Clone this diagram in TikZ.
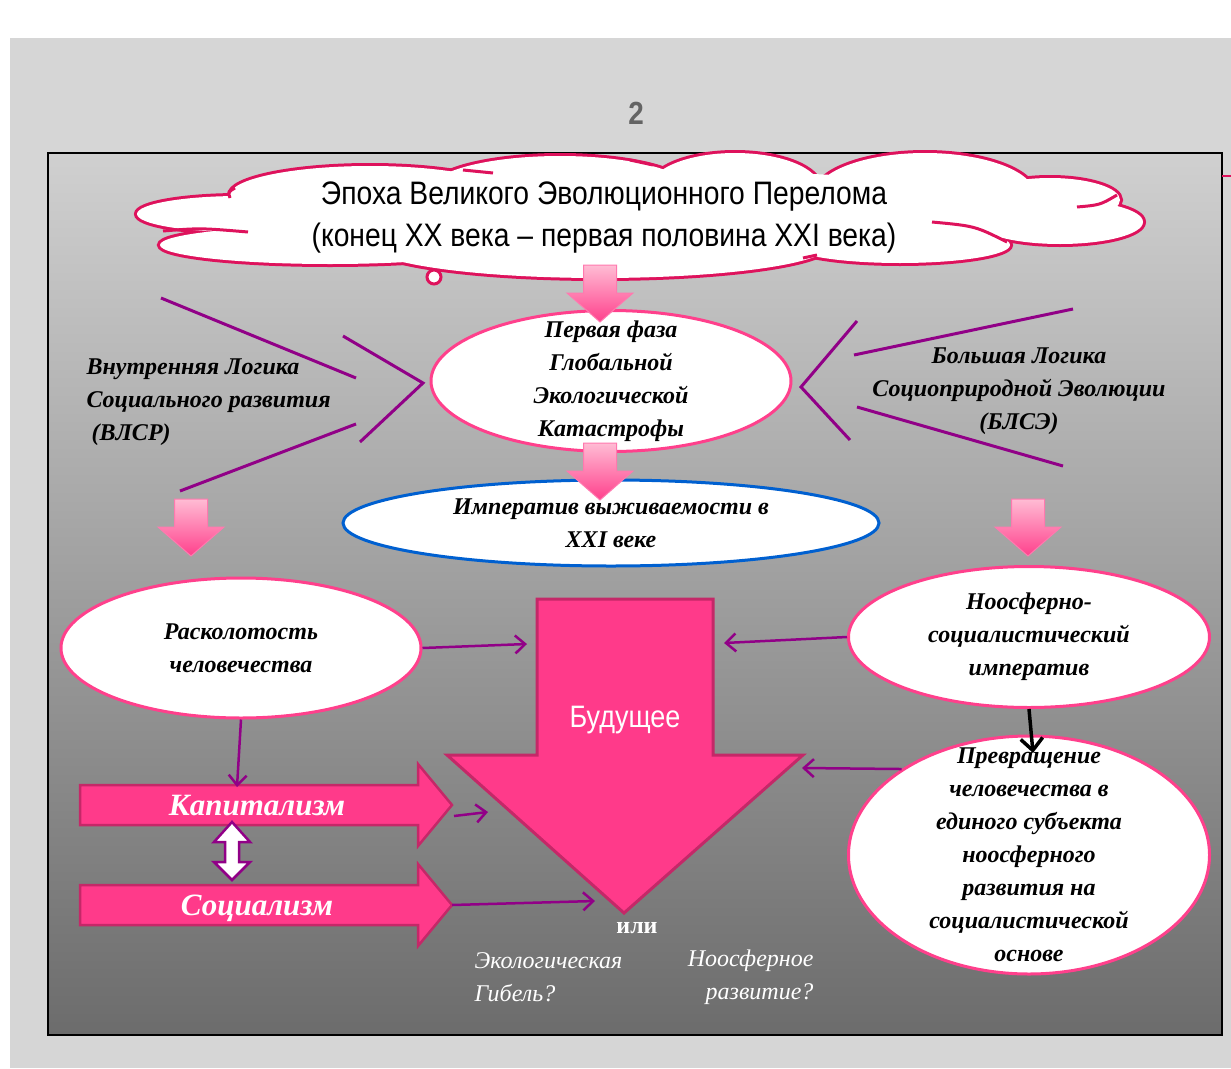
\documentclass[tikz,border=0pt]{standalone}
\usepackage{fontspec}
\setmainfont{Liberation Serif}
\newfontfamily\narrowsans[FakeStretch=0.87]{Liberation Sans}
\usetikzlibrary{shapes.geometric, arrows.meta}

\definecolor{crimson}{RGB}{222,18,92}
\definecolor{rosy}{RGB}{255,64,140}
\definecolor{hotpink}{RGB}{255,58,138}
\definecolor{pinkedge}{RGB}{196,40,104}
\definecolor{plum}{RGB}{145,0,135}
\definecolor{skyblue}{RGB}{0,96,208}
\definecolor{lightpink}{RGB}{255,188,212}
\definecolor{slidegray}{RGB}{214,214,214}
\definecolor{frametop}{RGB}{208,208,208}
\definecolor{framebot}{RGB}{108,108,108}

\begin{document}
\begin{tikzpicture}[x=1pt, y=-1pt,
    boldtext/.style={font=\fontsize{24}{33}\selectfont\bfseries\itshape, align=center},
    oval/.style={ellipse, draw=rosy, line width=3pt, fill=white, inner sep=0pt, boldtext},
    link/.style={draw=plum, line width=2.5pt, -{Straight Barb[length=10pt,width=18pt]}},
    fence/.style={draw=plum, line width=3pt},
    blockarrow/.style={fill=hotpink, draw=pinkedge, line width=2.5pt, line join=miter},
    drop/.style={draw=rosy!70, line width=1pt, top color=lightpink, bottom color=rosy},
    whitetext/.style={font=\fontsize{24}{33}\selectfont\itshape, text=white}]

    % Slide background
    \useasboundingbox (0,0) rectangle (1231,1068);
    \fill[white] (0,0) rectangle (1231,1068);
    \fill[slidegray] (10,38) rectangle (1231,1068);
    \node[text={rgb,255:red,100;green,100;blue,100}, font=\narrowsans\bfseries\fontsize{32}{32}\selectfont] (num) at (636,113) {2};

    % Frame
    \draw[line width=2pt, top color=frametop, bottom color=framebot] (48,153) rectangle (1222,1035);
    \draw[crimson, line width=2pt] (1222,176) -- (1231,176);

    % Cloud
    \foreach \ex/\ey/\rx/\ry in {240/214/103/18, 330/245/170/19, 370/195/140/29, 560/190/130/34,
                                 735/188/85/35, 925/195/110/42, 1050/200/70/22, 1060/222/83/22,
                                 900/245/110/18, 600/245/230/33}
        \draw[crimson, line width=6pt] (\ex,\ey) ellipse [x radius=\rx, y radius=\ry];
    \foreach \ex/\ey/\rx/\ry in {240/214/103/18, 330/245/170/19, 370/195/140/29, 560/190/130/34,
                                 735/188/85/35, 925/195/110/42, 1050/200/70/22, 1060/222/83/22,
                                 900/245/110/18, 600/245/230/33, 640/215/420/45}
        \fill[white] (\ex,\ey) ellipse [x radius=\rx, y radius=\ry];
    \draw[crimson, line width=3pt] (163,231) .. controls (200,228) .. (248,232);
    \draw[crimson, line width=3pt] (932,222) .. controls (975,226) .. (1007,242);
    \draw[crimson, line width=3pt] (1077,207) .. controls (1100,205) .. (1117,195);
    \draw[crimson, line width=3pt] (463,170) -- (493,173);
    \draw[crimson, line width=3pt] (630,160) -- (653,165);
    \draw[crimson, line width=3pt] (803,258) -- (817,255);
    \draw[crimson, line width=3pt] (230,198) .. controls (228,192) .. (235,188);
    \draw[crimson, line width=3pt, fill=white] (434,277) circle (7);
    \node[font=\narrowsans\fontsize{32.5}{42}\selectfont, align=center] (epoch) at (604,218)
          {Эпоха Великого Эволюционного Перелома\\(конец XX века – первая половина XXI века)};

    % Ovals
    \node[oval, minimum width=360pt, minimum height=141pt, inner ysep=-14pt] (phase) at (611,381)
          {Первая фаза\\Глобальной\\Экологической\\Катастрофы};
    \node[oval, draw=skyblue, minimum width=536pt, minimum height=86pt] (imp) at (611,523) {};
    \node[oval, minimum width=360pt, minimum height=140pt] (rask) at (241,648)
          {Расколотость\\человечества};
    \node[oval, minimum width=361pt, minimum height=141pt, inner ysep=-4pt] (noos) at (1029,637)
          {Ноосферно-\\социалистический\\императив};
    \node[oval, minimum width=361pt, minimum height=238pt, inner ysep=-30pt] (prev) at (1029,855)
          {Превращение\\человечества в\\единого субъекта\\ноосферного\\развития на\\социалистической\\основе};

    % Pink drops
    \foreach \cx/\ty in {600/265, 191/499, 1028/499, 600/443}
        \path[drop] (\cx-16.5,\ty) -- ++(33,0) -- ++(0,28) -- ++(16.5,0) -- (\cx,\ty+57)
              -- (\cx-33,\ty+28) -- (\cx-16.5,\ty+28) -- cycle;
    \node[boldtext] (imptext) at (imp) {Императив выживаемости в\\XXI веке};

    % Side logics
    \node[boldtext, align=left, anchor=west] (vlsr) at (83,402)
          {Внутренняя Логика\\Социального развития\\\hspace*{5pt}(ВЛСР)};
    \node[boldtext] (blse) at (1019,391) {Большая Логика\\Социоприродной Эволюции\\(БЛСЭ)};
    \draw[fence] (161,298) -- (356,378);
    \draw[fence] (180,491) -- (356,424);
    \draw[fence] (343,336) -- (423,383) -- (360,442);
    \draw[fence] (854,355) -- (1073,309);
    \draw[fence] (857,407) -- (1063,466);
    \draw[fence] (857,321) -- (801,387) -- (850,440);

    % Future
    \draw[blockarrow, line width=3pt] (537,599) -- (713,599) -- (713,755) -- (803,755)
          -- (624,913) -- (447,755) -- (537,755) -- cycle;
    \node[font=\narrowsans\fontsize{31}{31}\selectfont, text=white] (fut) at (625,720) {Будущее};

    % Capitalism and socialism
    \draw[blockarrow] (80,785) -- (418,785) -- (418,764) -- (452,805) -- (418,846)
          -- (418,825) -- (80,825) -- cycle;
    \draw[blockarrow] (80,885) -- (418,885) -- (418,864) -- (452,905) -- (418,946)
          -- (418,925) -- (80,925) -- cycle;
    \node[font=\fontsize{31}{31}\selectfont\bfseries\itshape, text=white] (kap) at (257,806) {Капитализм};
    \node[font=\fontsize{31}{31}\selectfont\bfseries\itshape, text=white] (soc) at (257,908) {Социализм};
    \draw[plum, line width=2.5pt, fill=white] (232,822) -- (250,842) -- (239,842) -- (239,862)
          -- (250,862) -- (232,880) -- (214,862) -- (225,862) -- (225,842) -- (214,842) -- cycle;

    % Connectors
    \coordinate (futL) at (527,644);
    \coordinate (futR) at (724,643);
    \coordinate (futHead) at (802,768);
    \coordinate (kapTop) at (237,787);
    \coordinate (kapOut) at (454,816);
    \coordinate (kapIn) at (488,812);
    \coordinate (socOut) at (452,905);
    \coordinate (socIn) at (595,901);
    \coordinate (prevTop) at (1033,753);
    \draw[link] (rask.east) -- (futL);
    \draw[link] (noos.west) -- (futR);
    \draw[link] (prev.146) -- (futHead);
    \draw[link] (rask.south) -- (kapTop);
    \draw[link] (kapOut) -- (kapIn);
    \draw[link] (socOut) -- (socIn);
    \draw[black, line width=3.5pt, -{Straight Barb[length=12pt,width=22pt]}] (noos.south) -- (prevTop);

    % Outcomes
    \node[font=\fontsize{24}{24}\selectfont\bfseries, text=white] (ili) at (637,928) {или};
    \node[whitetext, align=left, anchor=west] (doom) at (471,977) {Экологическая\\Гибель?};
    \node[whitetext, align=right, anchor=east] (noodev) at (817,977) {Ноосферное\\развитие?};
\end{tikzpicture}
\end{document}
